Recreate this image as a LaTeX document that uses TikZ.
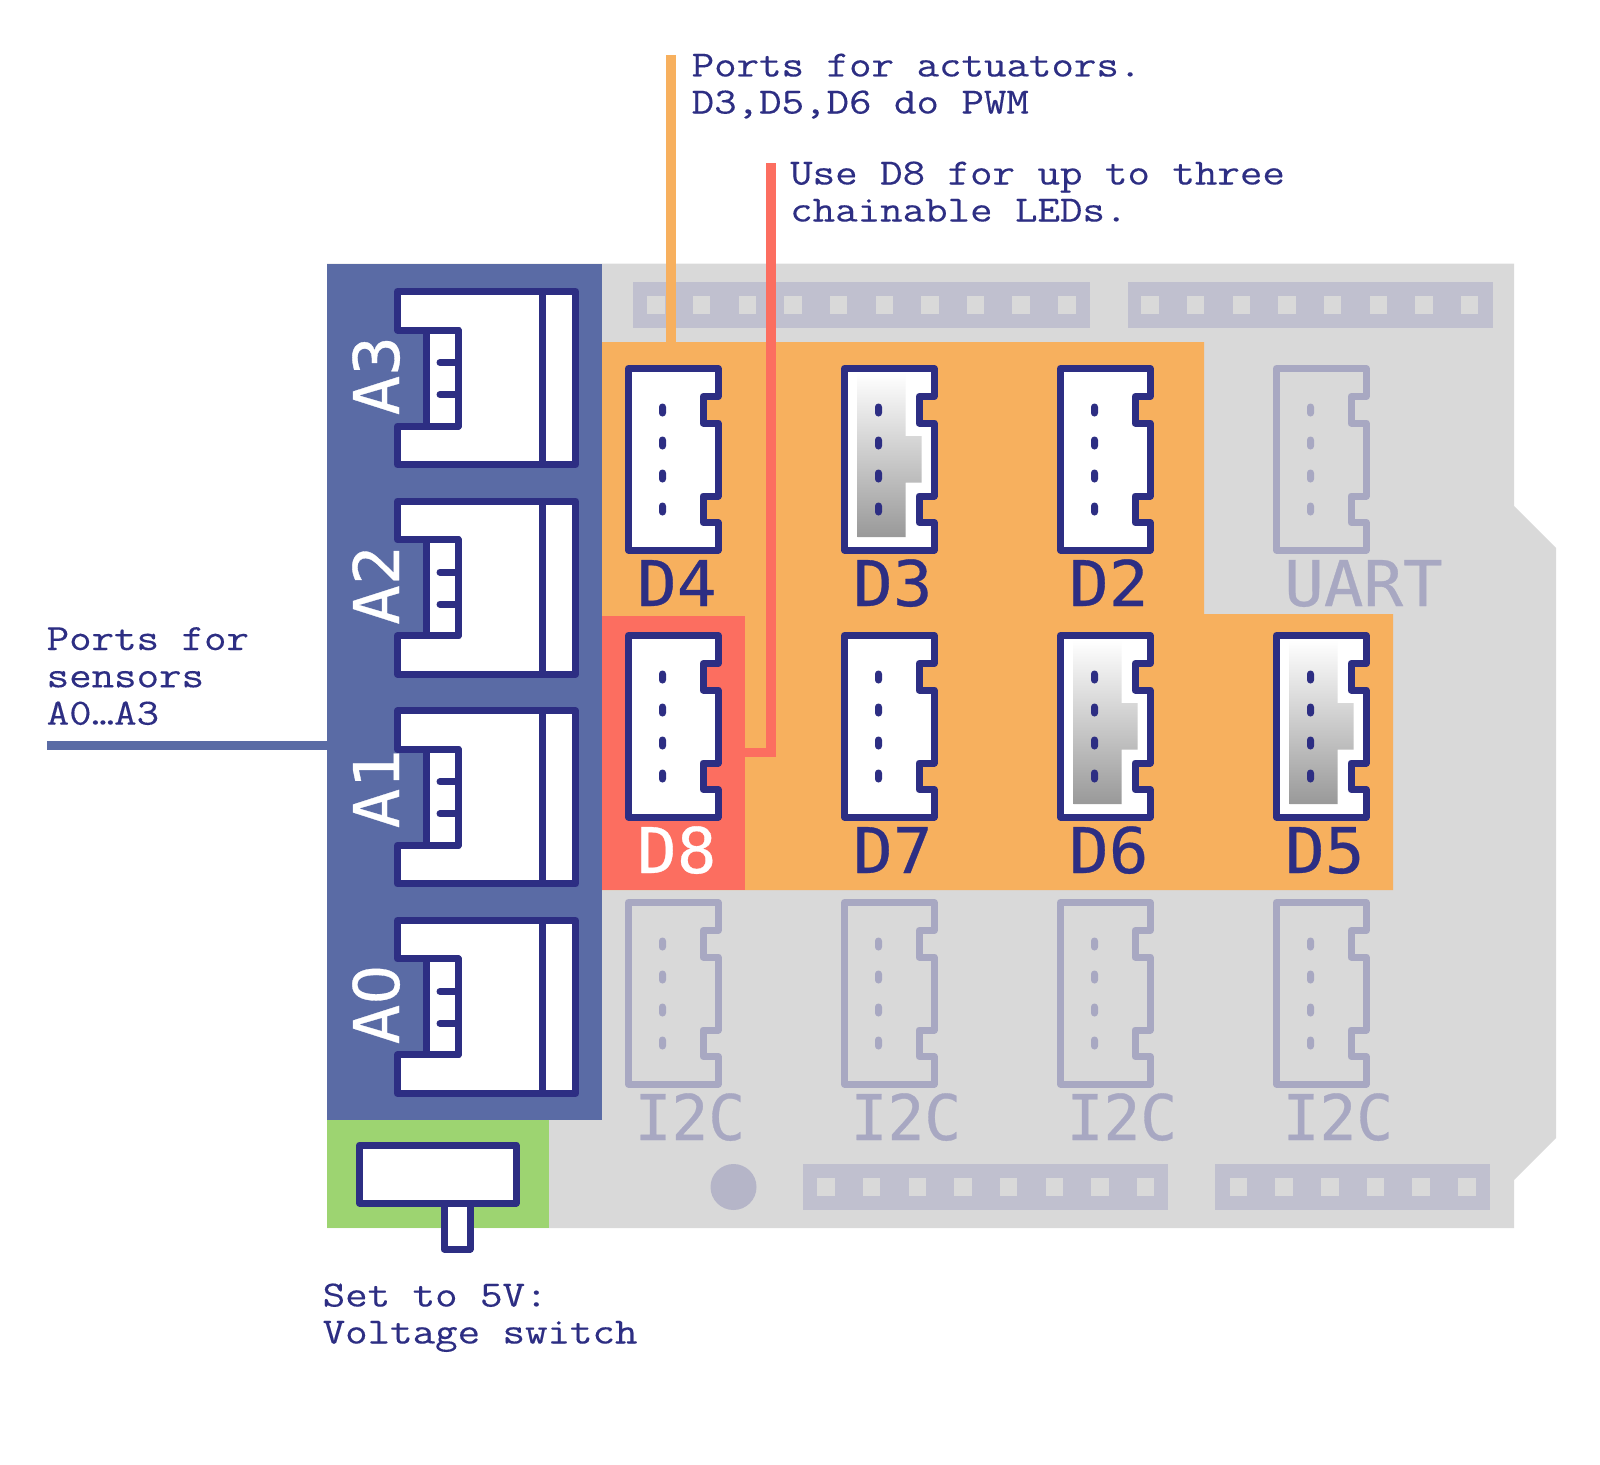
\documentclass[tikz,border=0pt]{standalone}
\usepackage{fontspec}
\newfontfamily\lblfont[FakeStretch=1.045,FakeBold=0.5]{DejaVu Sans Mono}
\newfontfamily\iicfont[FakeStretch=0.97,FakeBold=0.5]{DejaVu Sans Mono}
\newfontfamily\zerofont[FakeBold=0.5]{DejaVu Sans}
\newfontfamily\annfont[FakeStretch=1.18,FakeBold=0.25]{Latin Modern Mono}
\definecolor{navy}{HTML}{2D2E83}
\definecolor{faded}{HTML}{A8A8C2}
\definecolor{orangezone}{HTML}{F7B05E}
\definecolor{redzone}{HTML}{FC6E60}
\definecolor{bluezone}{HTML}{5A6BA5}
\definecolor{greenzone}{HTML}{9DD471}
\definecolor{boardgray}{HTML}{D9D9D9}
\definecolor{headergray}{HTML}{C0C0CF}
\definecolor{holegray}{HTML}{B5B5C8}
\tikzset{
  outline/.style={line width=7pt,line join=round,line cap=round},
  header/.style={fill=headergray,draw=none},
  portlabel/.style={font=\lblfont\fontsize{63}{63}\selectfont,inner sep=0pt,anchor=base west},
  iiclabel/.style={font=\iicfont\fontsize{63}{63}\selectfont,inner sep=0pt,anchor=base west,text=faded},
  note/.style={text=navy,font=\annfont\fontsize{37}{37}\selectfont,inner sep=0pt,anchor=base west},
  leader/.style={line width=9.4pt},
}
% vertical connector body
\newcommand{\vconnbody}[4]{% x, y, colour, fill options
  \begin{scope}[shift={(#1,#2)}]
    \path[outline,draw=#3,#4] (0,0) -- (89.5,0) -- (89.5,28) -- (74.5,28) -- (74.5,54.5) -- (89.5,54.5)
      -- (89.5,127.5) -- (74.5,127.5) -- (74.5,154) -- (89.5,154) -- (89.5,181.5) -- (0,181.5) -- cycle;
  \end{scope}}
\newcommand{\vconnshade}[2]{%
  \begin{scope}[shift={(#1,#2)}]
    \path[top color=white,bottom color=black!40] (13,4.5) -- (61,4.5) -- (61,67.5) -- (77,67.5) -- (77,114)
      -- (61,114) -- (61,168.5) -- (13,168.5) -- cycle;
  \end{scope}}
\newcommand{\vconnpins}[3]{%
  \begin{scope}[shift={(#1,#2)}]
    \foreach \yy in {41.5,74.5,107.5,140.5}
      \fill[#3,rounded corners=3.4pt] (30.5,\yy-6.5) rectangle (37.5,\yy+6.5);
  \end{scope}}
\newcommand{\aport}[1]{%
  \begin{scope}[shift={(397.5,#1)}]
    \path[outline,draw=navy,fill=white] (0,0) -- (178,0) -- (178,173) -- (0,173) -- (0,134.5) -- (60.5,134.5)
      -- (60.5,38.5) -- (0,38.5) -- cycle;
    \path[outline,draw=navy,fill=white] (29,38.5) rectangle (60.5,134.5);
    \draw[outline,line cap=butt] [draw=navy] (144.5,0) -- (144.5,173);
    \draw[outline,draw=navy] (42.5,71) -- (60.5,71) (42.5,103) -- (60.5,103);
  \end{scope}}
\begin{document}
\begin{tikzpicture}[x=1pt,y=-1pt]
\useasboundingbox (0,0) rectangle (1600,1464);
% board
\fill[boardgray] (327,263.5) -- (1514,263.5) -- (1514,506) -- (1556,548) -- (1556,1138) -- (1514,1180) -- (1514,1228) -- (327,1228) -- cycle;
% pin headers
\fill[header] (633,282) rectangle (1090,328);
\fill[header] (1128,282) rectangle (1493,328);
\fill[header] (803,1164) rectangle (1168,1210);
\fill[header] (1215,1164) rectangle (1490,1210);
\foreach \i in {0,...,9} \fill[boardgray] ({656+\i*45.65-8.75},296) rectangle ++(17.5,17.5);
\foreach \i in {0,...,7} \fill[boardgray] ({1150+\i*45.65-8.75},296) rectangle ++(17.5,17.5);
\foreach \i in {0,...,7} \fill[boardgray] ({826+\i*45.65-8.75},1178) rectangle ++(17.5,17.5);
\foreach \i in {0,...,5} \fill[boardgray] ({1238.5+\i*45.65-8.75},1178) rectangle ++(17.5,17.5);
\fill[holegray] (733.5,1187) circle (23);
% zones
\fill[orangezone] (602,342) -- (1204,342) -- (1204,614) -- (1393,614) -- (1393,890) -- (602,890) -- cycle;
\fill[redzone] (602,616) rectangle (745,890);
\fill[bluezone] (327,263.5) rectangle (602,1120);
\fill[greenzone] (327,1120) rectangle (549,1228);
% leaders
\coordinate (actTop) at (671,55);
\coordinate (actEnd) at (671,343);
\coordinate (ledTop) at (771,163);
\coordinate (ledBend) at (771,752.5);
\coordinate (ledEnd) at (745,752.5);
\coordinate (senEnd) at (47,745.5);
\coordinate (senStart) at (327,745.5);
\draw[leader,draw=orangezone] (actTop) -- (actEnd);
\draw[leader,draw=redzone,line join=miter] (ledTop) -- (ledBend) -- (ledEnd);
\draw[leader,draw=bluezone] (senStart) -- (senEnd);
% analog ports
\aport{291.5}\aport{501.2}\aport{710.8}\aport{920.4}
\node[portlabel,text=white,rotate=90] (labA3) at (399,415.5) {A3};
\node[portlabel,text=white,rotate=90] (labA2) at (399,625) {A2};
\node[portlabel,text=white,rotate=90] (labA1) at (399,828.5) {A1};
\node[portlabel,text=white,rotate=90] (labA0) at (399,1044.5) {A{\zerofont 0}};
% digital ports
\foreach \x/\y in {628.5/368.5,1060.5/368.5,844.5/635.5,628.5/635.5}{
  \vconnbody{\x}{\y}{navy}{fill=white}\vconnpins{\x}{\y}{navy}}
\foreach \x/\y in {844.5/368.5,1060.5/635.5,1276.5/635.5}{
  \vconnbody{\x}{\y}{navy}{fill=white}\vconnshade{\x}{\y}\vconnpins{\x}{\y}{navy}}
% faded ports
\foreach \x/\y in {1276.5/368.5,628.5/902.5,844.5/902.5,1060.5/902.5,1276.5/902.5}{
  \vconnbody{\x}{\y}{faded}{}\vconnpins{\x}{\y}{faded}}
% port labels
\node[portlabel,text=navy] (labD4) at (637,606) {D4};
\node[portlabel,text=navy] (labD3) at (853,606) {D3};
\node[portlabel,text=navy] (labD2) at (1069,606) {D2};
\node[portlabel,text=faded] (labUART) at (1284,606) {UART};
\node[portlabel,text=white] (labD8) at (637,873) {D8};
\node[portlabel,text=navy] (labD7) at (853,873) {D7};
\node[portlabel,text=navy] (labD6) at (1069,873) {D6};
\node[portlabel,text=navy] (labD5) at (1285,873) {D5};
\node[iiclabel] (labI2Ca) at (634.5,1140) {I2C};
\node[iiclabel] (labI2Cb) at (850.5,1140) {I2C};
\node[iiclabel] (labI2Cc) at (1066.5,1140) {I2C};
\node[iiclabel] (labI2Cd) at (1282.5,1140) {I2C};
% voltage switch
\draw[outline,draw=navy,fill=white] (444,1203) -- (444,1249) -- (470,1249) -- (470,1203) -- cycle;
\draw[outline,draw=navy,fill=white] (359.5,1145) rectangle (516,1203);
% notes
\node[note] (noteAct) at (691.5,76.5) {\vtop{\baselineskip=37pt\hbox{Ports for actuators.}\hbox{D3,D5,D6 do PWM}}};
\node[note] (noteLed) at (790,184.5) {\vtop{\baselineskip=37pt\hbox{Use D8 for up to three}\hbox{chainable LEDs.}}};
\node[note] (noteSen) at (46.5,650) {\vtop{\baselineskip=37.3pt\hbox{Ports for}\hbox{sensors}\hbox{A0…A3}}};
\node[note] (noteSw) at (322.5,1306.5) {\vtop{\baselineskip=37pt\hbox{Set to 5V:}\hbox{Voltage switch}}};
\end{tikzpicture}
\end{document}
